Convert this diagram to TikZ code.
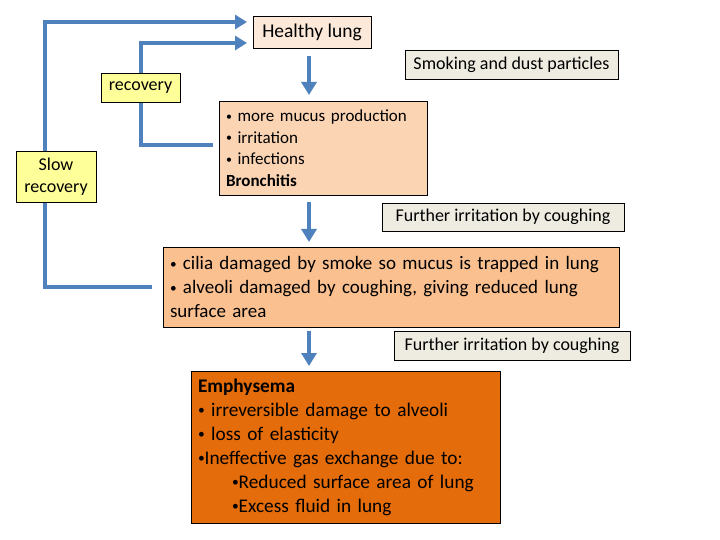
\documentclass[tikz,border=0pt]{standalone}
\usepackage{fontspec}
\setmainfont{Carlito}
\usepackage{tikz}
\usetikzlibrary{arrows.meta,calc}
\definecolor{blau}{HTML}{4F81BD}
\definecolor{hpfirsich}{HTML}{FDE9D9}
\definecolor{pfirsich}{HTML}{FBD4B4}
\definecolor{mpfirsich}{HTML}{FAC090}
\definecolor{orange}{HTML}{E46C0A}
\definecolor{beige}{HTML}{EEECE1}
\definecolor{gelb}{HTML}{FFFF99}
\newcommand{\pkt}{\raisebox{0.15ex}{\scalebox{0.7}{\textbullet}}}
\tikzset{
  kasten/.style={draw=black,line width=0.8pt,inner sep=0pt,outer sep=0pt},
  ursache/.style={kasten,fill=beige,font=\fontsize{18}{21}\selectfont},
  erholung/.style={kasten,fill=gelb,align=center,font=\fontsize{18}{22}\selectfont},
  pfeil/.style={-{Triangle[length=13pt,width=15pt]},blau,line width=4pt},
  rueck/.style={-{Triangle[length=12pt,width=14pt]},blau,line width=4pt},
}

\begin{document}
\begin{tikzpicture}[x=1pt,y=-1pt]
  \useasboundingbox (0,0) rectangle (720,540);
  % stages
  \node[kasten,fill=hpfirsich,minimum width=118pt,minimum height=32pt,
        font=\fontsize{19.5}{22}\selectfont] (healthy) at (312,32) {Healthy lung};
  \node[kasten,fill=pfirsich,minimum width=208pt,minimum height=94pt,
        text width=194pt,align=left,font=\fontsize{17}{21.5}\selectfont]
        (bronch) at (323,148)
        {\pkt\ more mucus production\\ \pkt\ irritation\\
         \pkt\ infections\\ \textbf{Bronchitis}};
  \node[kasten,fill=mpfirsich,minimum width=456pt,minimum height=80pt,
        text width=442pt,align=left,font=\fontsize{19}{24}\selectfont]
        (damage) at (391,287)
        {\pkt\ cilia damaged by smoke so mucus is trapped in lung\\
         \pkt\ alveoli damaged by coughing, giving reduced lung\\
         surface area};
  \node[kasten,fill=orange,minimum width=309pt,minimum height=152pt,
        text width=295pt,align=left,font=\fontsize{19.3}{24}\selectfont]
        (emph) at (345.5,447)
        {\textbf{Emphysema}\\ \pkt\ irreversible damage to alveoli\\
         \pkt\ loss of elasticity\\
         \pkt Ineffective gas exchange due to:\\
         \hspace*{34pt}\pkt Reduced surface area of lung\\
         \hspace*{34pt}\pkt Excess fluid in lung};
  % causes
  \node[ursache,minimum width=213pt,minimum height=29pt] (smoke) at (511.5,64.5)
        {Smoking and dust particles};
  \node[ursache,minimum width=242pt,minimum height=28pt] (cough1) at (503,217)
        {Further irritation by coughing};
  \node[ursache,minimum width=236pt,minimum height=29pt] (cough2) at (512,345.5)
        {Further irritation by coughing};
  % recovery paths
  \coordinate (outer) at (45,0);
  \coordinate (inner) at (141,0);
  \draw[rueck,shorten <=11pt,shorten >=6pt]
    (damage.west) -| (outer |- damage.west) |- ([yshift=10pt]healthy.west);
  \draw[rueck,shorten <=6pt,shorten >=6pt]
    ([yshift=3pt]bronch.west) -| (inner |- 0,145) |- ([yshift=-11pt]healthy.west);
  \node[erholung,minimum width=79pt,minimum height=29pt] (recov) at (140.5,87.5)
        {recovery};
  \node[erholung,minimum width=80pt,minimum height=51pt] (slow) at (56,176.5)
        {Slow\\recovery};
  % progression
  \draw[pfeil] (309,56) coordinate (a1) -- (a1 |- 0,95);
  \draw[pfeil] (309,202) coordinate (a2) -- (a2 |- 0,242);
  \draw[pfeil] (309,331) coordinate (a3) -- (a3 |- 0,366);
\end{tikzpicture}
\end{document}
